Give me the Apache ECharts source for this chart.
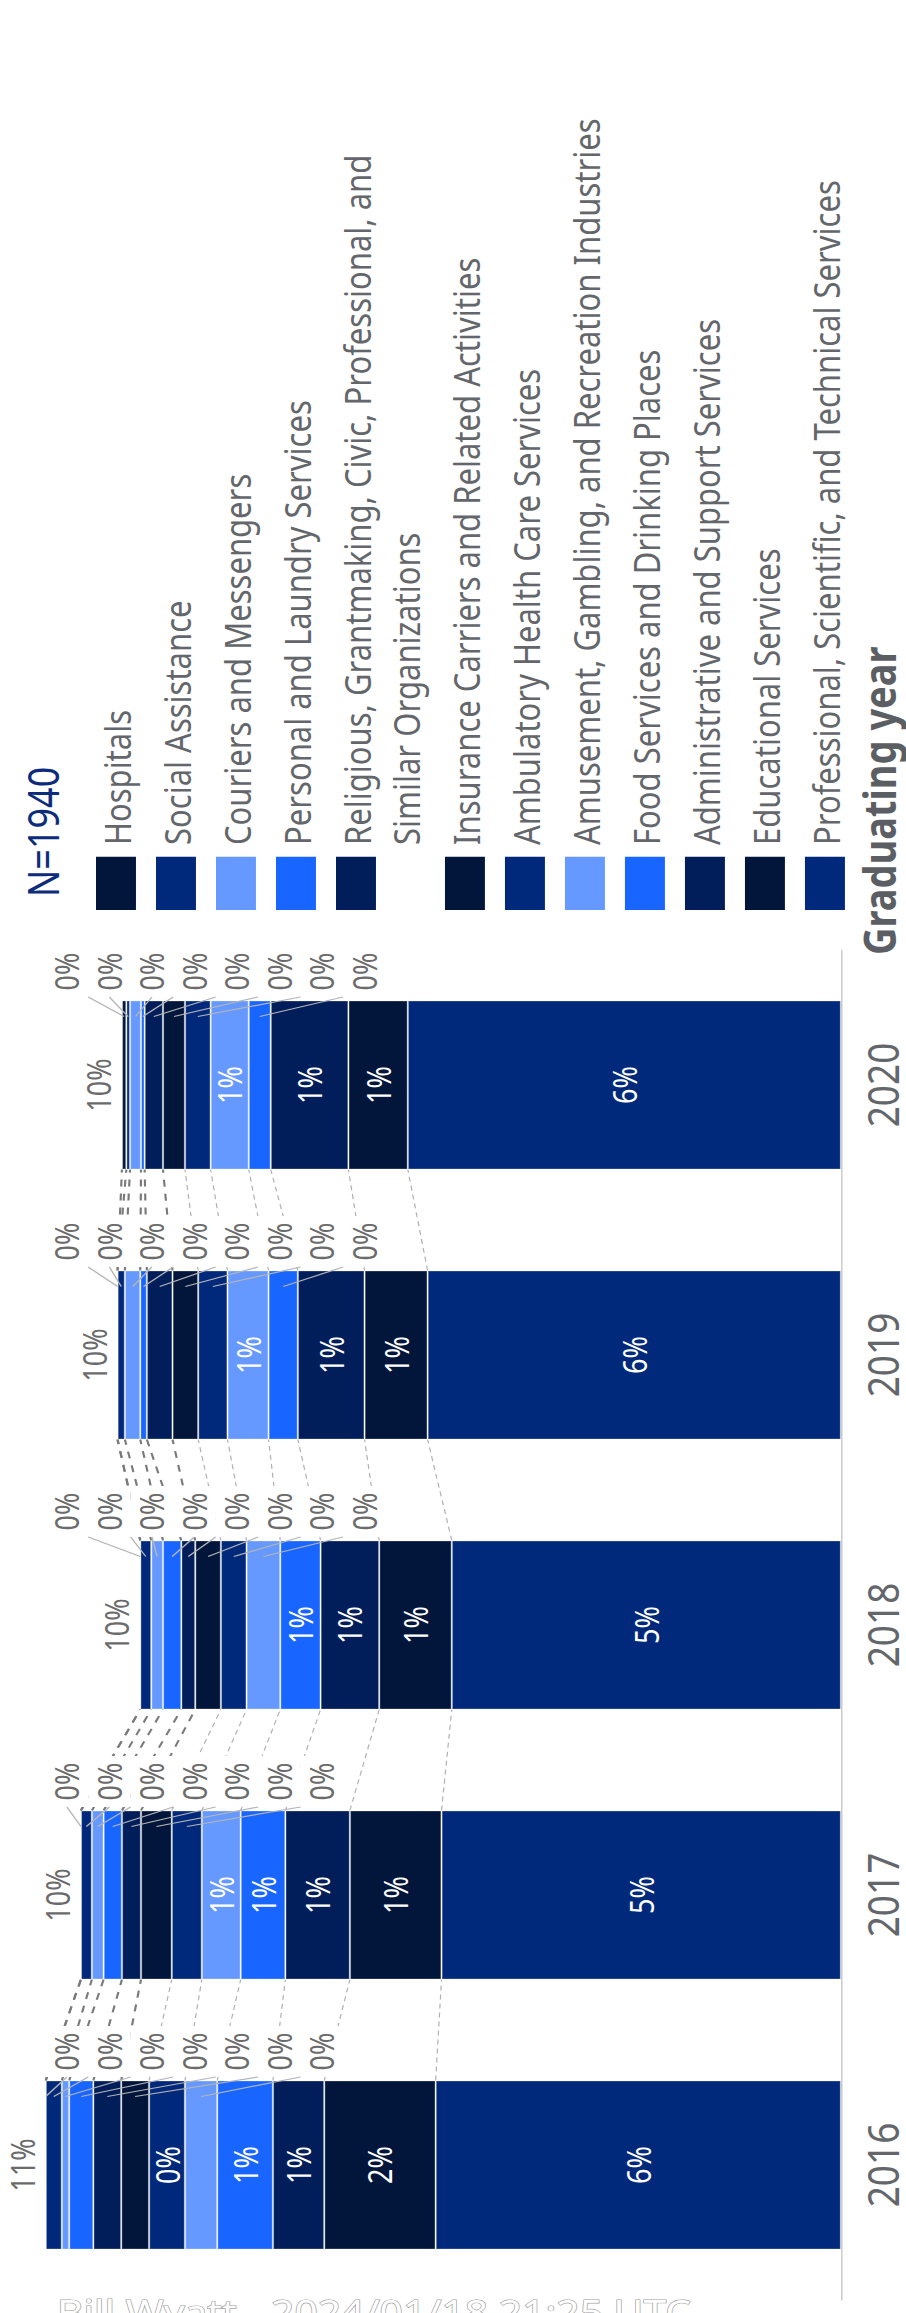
<!DOCTYPE html>
<html>
<head>
<meta charset="utf-8">
<script src="https://cdn.jsdelivr.net/npm/echarts@6/dist/echarts.min.js"></script>
<style>
  html, body { margin: 0; padding: 0; width: 906px; height: 2313px; overflow: hidden; background: #fff; }
  /* The chart is laid out landscape and turned a quarter turn so the years read upward. */
  #chart {
    position: absolute; left: 0; top: 0;
    width: 2313px; height: 755px;
    transform-origin: 0 0;
    transform: translateY(2313px) rotate(-90deg) scaleY(1.2);
  }
</style>
</head>
<body>
<div id="chart"></div>
<script>
// Graduating years on the category axis
const years = ['2016', '2017', '2018', '2019', '2020'];

// Share of all respondents (N=1940), in percent, per industry and year
const hospitals      = [0.00, 0.00, 0.00, 0.00, 0.06];
const socialAssist   = [0.22, 0.15, 0.15, 0.10, 0.05];
const couriers       = [0.10, 0.16, 0.16, 0.21, 0.15];
const personalLaundry= [0.33, 0.25, 0.25, 0.09, 0.05];
const religiousOrgs  = [0.38, 0.26, 0.19, 0.35, 0.25];
const insurance      = [0.38, 0.42, 0.35, 0.35, 0.30];
const ambulatory     = [0.49, 0.41, 0.35, 0.40, 0.35];
const amusement      = [0.44, 0.53, 0.46, 0.56, 0.52];
const foodServices   = [0.76, 0.61, 0.55, 0.40, 0.30];
const adminSupport   = [0.70, 0.88, 0.80, 0.91, 1.06];
const educational    = [1.52, 1.25, 0.99, 0.86, 0.81];
const professional   = [5.53, 5.45, 5.31, 5.64, 5.91];

// Legend entries, listed from the top of the stack down
const industryNames = [
  'Hospitals',
  'Social Assistance',
  'Couriers and Messengers',
  'Personal and Laundry Services',
  'Religious, Grantmaking, Civic, Professional, and\nSimilar Organizations',
  'Insurance Carriers and Related Activities',
  'Ambulatory Health Care Services',
  'Amusement, Gambling, and Recreation Industries',
  'Food Services and Drinking Places',
  'Administrative and Support Services',
  'Educational Services',
  'Professional, Scientific, and Technical Services'
];
const industryValues = [
  hospitals, socialAssist, couriers, personalLaundry, religiousOrgs, insurance,
  ambulatory, amusement, foodServices, adminSupport, educational, professional
];

const legendTitle = 'N=1940';
const axisTitle = 'Graduating year';
const credit = 'Bill Wyatt - 2024/01/18 21:25 UTC';

// Five-colour cycle, applied from the top of the legend down
const palette = ['#02163c', '#00297b', '#6699ff', '#1866ff', '#011e5b'];

const FONT = '"Noto Sans", "DejaVu Sans", sans-serif';
const BAR_W = 169;          // bar thickness in px
const INSIDE_MIN = 0.475;   // segments below this get an external label
const SLOT = 35.4;          // spacing of the external label column
const NEAR = 25;            // leader attaches to label middle when this close
const LABEL_GRAY = '#6b6b6b';
const TEXT_GRAY = '#63666a';

const nSeries = industryNames.length;
const totals = years.map((_, i) => industryValues.reduce((s, arr) => s + arr[i], 0));
const maxTotal = Math.max(...totals);

// cumulative top of each industry's segment, indexed top-down
function cumulativeTops(i) {
  const tops = new Array(nSeries);
  let acc = 0;
  for (let t = nSeries - 1; t >= 0; t--) {
    acc += industryValues[t][i];
    tops[t] = acc;
  }
  return tops;
}

const chart = echarts.init(document.getElementById('chart'), null, { renderer: 'svg' });

// Bar series go bottom-up so the stack order matches the legend read from the bottom
const barSeries = [];
for (let t = nSeries - 1; t >= 0; t--) {
  barSeries.push({
    type: 'bar',
    name: industryNames[t],
    stack: 'share',
    barWidth: BAR_W,
    data: industryValues[t],
    silent: true,
    z: 2,
    itemStyle: {
      color: palette[t % palette.length],
      borderColor: 'rgba(255,255,255,0.28)',
      borderWidth: 1
    },
    label: {
      show: true,
      position: 'inside',
      color: '#ffffff',
      fontFamily: FONT,
      fontSize: 27,
      formatter: p => (p.value >= INSIDE_MIN ? Math.round(p.value) + '%' : '')
    }
  });
}

// Dashed lines joining each segment boundary to the same boundary on the next bar
const connectorSeries = {
  type: 'custom',
  silent: true,
  z: 1,
  data: years.map((_, i) => [i, totals[i]]),
  encode: { x: 0, y: 1 },
  renderItem(params, api) {
    const i = params.dataIndex;
    if (i >= years.length - 1) return null;
    const a = cumulativeTops(i);
    const b = cumulativeTops(i + 1);
    const children = [];
    for (let t = 0; t < nSeries; t++) {
      const p = api.coord([i, a[t]]);
      const q = api.coord([i + 1, b[t]]);
      const upper = t < 6;
      children.push({
        type: 'line',
        shape: { x1: p[0] + BAR_W / 2, y1: p[1], x2: q[0] - BAR_W / 2, y2: q[1] },
        style: upper
          ? { stroke: '#7a7a7a', lineWidth: 1.8, lineDash: [7, 7] }
          : { stroke: '#b0b0b0', lineWidth: 1, lineDash: [5, 4] }
      });
    }
    return { type: 'group', children };
  }
};

// External labels for thin segments (stacked in a column beside the bar) and bar totals
const labelSeries = {
  type: 'custom',
  silent: true,
  z: 3,
  data: years.map((_, i) => [i, totals[i]]),
  encode: { x: 0, y: 1 },
  renderItem(params, api) {
    const i = params.dataIndex;
    const base = api.coord([i, 0]);
    const cx = base[0];
    const xr = cx + BAR_W / 2;
    const plotTop = api.coord([i, maxTotal])[1];
    const children = [];
    let cum = totals[i];
    let k = 0;
    for (let t = 0; t < nSeries; t++) {
      const v = industryValues[t][i];
      const mid = cum - v / 2;
      cum -= v;
      if (v >= INSIDE_MIN) continue;
      const yc = plotTop + (k + 0.5) * SLOT;
      k++;
      const ya = api.coord([i, mid])[1];
      let ye = yc;
      if (ya < yc - NEAR) ye = yc - SLOT / 2;
      else if (ya > yc + NEAR) ye = yc + SLOT / 2;
      children.push({
        type: 'text',
        x: xr + 3.5,
        y: yc,
        z2: 1,
        style: {
          text: Math.round(v) + '%',
          fill: LABEL_GRAY,
          font: '27px ' + FONT,
          align: 'left',
          verticalAlign: 'middle',
          backgroundColor: '#ffffff',
          padding: [4.2, 6.5, 4.2, 6.5]
        }
      });
      children.push({
        type: 'line',
        z2: 2,
        shape: { x1: xr - 16, y1: ya, x2: xr + 3.5, y2: ye },
        style: { stroke: '#b4b4b4', lineWidth: 1.2 }
      });
    }
    const topPt = api.coord([i, totals[i]]);
    children.push({
      type: 'text',
      x: cx,
      y: topPt[1] - 6,
      style: {
        text: Math.round(totals[i]) + '%',
        fill: LABEL_GRAY,
        font: '27px ' + FONT,
        align: 'center',
        verticalAlign: 'bottom'
      }
    });
    return { type: 'group', children };
  }
};

// Legend drawn as swatches and text, one row per industry
const LEG_X = 1403, LEG_TEXT_X = 1468, LEG_TOP = 80, LEG_PITCH = 50, LEG_LINE = 40.8;
const legendGraphics = [];
let extra = 0;
industryNames.forEach((name, t) => {
  const top = LEG_TOP + t * LEG_PITCH + extra;
  legendGraphics.push({
    type: 'rect',
    shape: { x: LEG_X, y: top, width: 53.3, height: 33.3 },
    style: { fill: palette[t % palette.length] }
  });
  legendGraphics.push({
    type: 'text',
    x: LEG_TEXT_X,
    y: top + 16.65 - LEG_LINE / 2,
    style: {
      text: name,
      fill: TEXT_GRAY,
      font: '31px ' + FONT,
      lineHeight: LEG_LINE,
      align: 'left',
      verticalAlign: 'top'
    }
  });
  extra += (name.split('\n').length - 1) * LEG_LINE;
});
legendGraphics.push({
  type: 'text',
  x: 1416,
  y: 35.4,
  style: { text: legendTitle, fill: '#0d2c7c', font: '36px ' + FONT, align: 'left', verticalAlign: 'middle' }
});
// Axis title, set just past the end of the category axis, level with the year labels
legendGraphics.push({
  type: 'text',
  x: 1358,
  y: 731.5,
  style: { text: axisTitle, fill: '#5b5f64', font: 'bold 38px ' + FONT, align: 'left', verticalAlign: 'middle' }
});
legendGraphics.push({
  type: 'text',
  x: 18,
  y: 47.5,
  rotation: -Math.PI / 2,
  style: {
    text: credit,
    fill: '#ffffff',
    stroke: '#9a9a9a',
    lineWidth: 1.2,
    font: '34px ' + FONT,
    align: 'left',
    verticalAlign: 'top'
  }
});

chart.setOption({
  animation: false,
  backgroundColor: '#ffffff',
  grid: { left: 13, right: 950, top: 38.1, bottom: 54.2 },
  xAxis: {
    type: 'category',
    data: years,
    axisLine: { show: true, lineStyle: { color: '#c8c8c8', width: 1.2 } },
    axisTick: { show: false },
    axisLabel: { fontFamily: FONT, fontSize: 37, color: TEXT_GRAY, margin: 15 }
  },
  yAxis: { type: 'value', min: 0, max: maxTotal, show: false },
  graphic: legendGraphics,
  series: [connectorSeries, ...barSeries, labelSeries]
});
</script>
</body>
</html>
